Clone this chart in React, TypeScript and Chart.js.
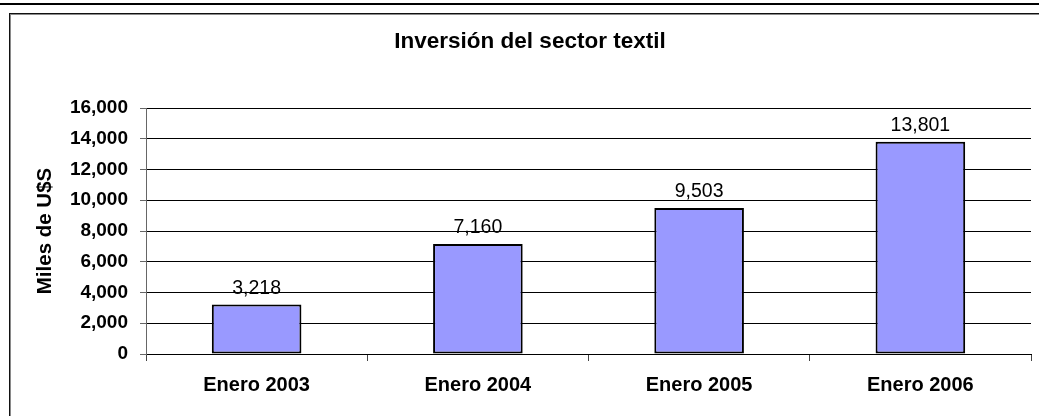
import React, { useEffect, useRef } from "react";
import { Chart, registerables } from "chart.js";

Chart.register(...registerables);

const categories = ["Enero 2003", "Enero 2004", "Enero 2005", "Enero 2006"];
const inversion = [3218, 7160, 9503, 13801];
const yTicks = [0, 2000, 4000, 6000, 8000, 10000, 12000, 14000, 16000];
const titleText = "Inversión del sector textil";
const yTitleText = "Miles de U$S";

const FONT = "'Liberation Sans', Arial, Helvetica, sans-serif";

const fmt = (v: number) => v.toLocaleString("en-US");

const framePlugin = {
  id: "frame",
  beforeDraw(chart: any) {
    const ctx = chart.ctx;
    const w = chart.width;
    const h = chart.height;
    ctx.save();
    ctx.fillStyle = "#ffffff";
    ctx.fillRect(0, 0, w, h);
    ctx.fillStyle = "#000000";
    ctx.fillRect(0, 3, w, 2);
    ctx.fillStyle = "#111111";
    ctx.fillRect(9, 13, w - 9, 1);
    ctx.fillRect(9, 13, 1, h - 13);
    ctx.fillStyle = "#8a8a8a";
    ctx.fillRect(10, 14, w - 10, 1);
    ctx.fillRect(10, 14, 1, h - 14);
    ctx.restore();
  },
};

const valueLabelPlugin = {
  id: "valueLabels",
  afterDatasetsDraw(chart: any) {
    const ctx = chart.ctx;
    const meta = chart.getDatasetMeta(0);
    const data = chart.data.datasets[0].data as number[];
    ctx.save();
    ctx.font = `19.5px ${FONT}`;
    ctx.fillStyle = "#000000";
    ctx.textAlign = "center";
    ctx.textBaseline = "alphabetic";
    meta.data.forEach((bar: any, i: number) => {
      ctx.fillText(fmt(data[i]), bar.x, bar.y - 11);
    });
    ctx.restore();
  },
};

export default function App() {
  const ref = useRef<HTMLCanvasElement | null>(null);

  useEffect(() => {
    if (!ref.current) return;
    const chart = new Chart(ref.current, {
      type: "bar",
      data: {
        labels: categories,
        datasets: [
          {
            data: inversion,
            backgroundColor: "#9999ff",
            borderColor: "#000000",
            borderWidth: 2,
            borderSkipped: false,
            categoryPercentage: 1,
            barPercentage: 0.405,
          },
        ],
      },
      options: {
        animation: false,
        responsive: false,
        layout: { padding: { left: 29, right: 8, top: 0, bottom: 0 } },
        plugins: {
          legend: { display: false },
          tooltip: { enabled: false },
          title: {
            display: true,
            text: titleText,
            color: "#000000",
            font: { family: FONT, size: 22.5, weight: "bold", lineHeight: 1.2 },
            padding: { top: 28, bottom: 53 },
          },
        },
        scales: {
          x: {
            type: "category",
            offset: true,
            afterFit: (scale: any) => {
              scale.height = 62;
            },
            grid: {
              display: true,
              offset: true,
              drawOnChartArea: false,
              drawTicks: true,
              tickLength: 7,
              tickColor: "#444444",
              color: "#444444",
            },
            border: { display: true, color: "#000000", width: 1 },
            ticks: {
              color: "#000000",
              padding: 12,
              maxRotation: 0,
              font: { family: FONT, size: 20, weight: "bold", lineHeight: 1.2 },
            },
          },
          y: {
            min: 0,
            max: 16000,
            afterFit: (scale: any) => {
              scale.width = 117;
            },
            afterBuildTicks: (scale: any) => {
              scale.ticks = yTicks.map((v) => ({ value: v }));
            },
            grid: {
              color: "#000000",
              lineWidth: 1,
              tickLength: 6,
              tickColor: "#666666",
            },
            border: { display: true, color: "#666666", width: 1 },
            ticks: {
              color: "#000000",
              padding: 12,
              font: { family: FONT, size: 19, weight: "bold", lineHeight: 1.2 },
              callback: (v: any) => fmt(Number(v)),
            },
            title: {
              display: true,
              text: yTitleText,
              color: "#000000",
              padding: { top: 4, bottom: 0 },
              font: { family: FONT, size: 20.5, weight: "bold", lineHeight: 1.2 },
            },
          },
        },
      },
      plugins: [framePlugin, valueLabelPlugin],
    });
    return () => chart.destroy();
  }, []);

  return (
    <div style={{ position: "absolute", left: 0, top: 0, width: 1039, height: 416 }}>
      <canvas ref={ref} width={1039} height={416} style={{ display: "block" }} />
    </div>
  );
}
